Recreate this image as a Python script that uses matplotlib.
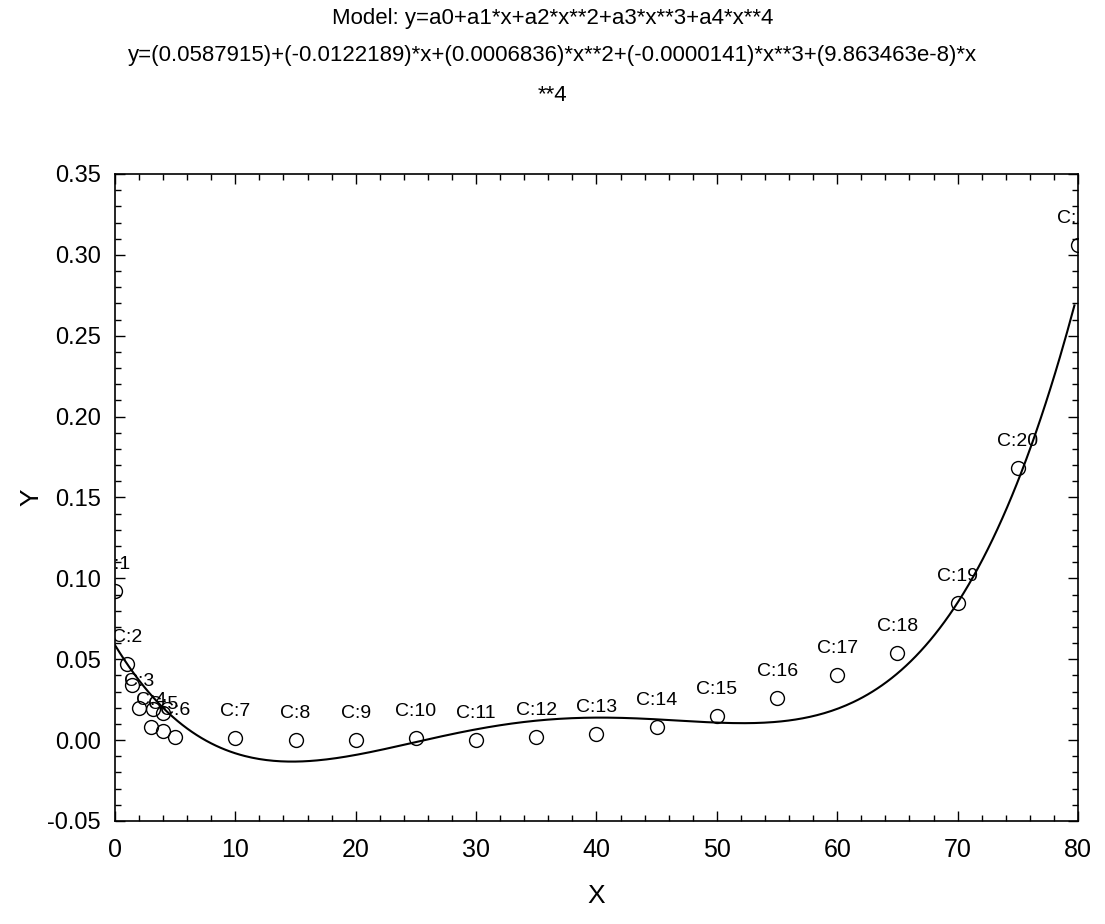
import numpy as np
import matplotlib.pyplot as plt
from matplotlib.ticker import MultipleLocator

case_x = [0, 1, 2, 3, 4, 5, 10, 15, 20, 25, 30, 35, 40, 45, 50, 55, 60, 65, 70, 75, 80]
case_y = [0.092, 0.047, 0.020, 0.008, 0.0056, 0.002, 0.001, 0.000, 0.000, 0.001, 0.000,
          0.002, 0.004, 0.008, 0.015, 0.026, 0.040, 0.054, 0.085, 0.168, 0.306]
case_labels = ['C:%d' % i for i in range(1, 22)]

# extra circles in the crowded corner with no readable label
extra_x = [1.4, 3.2, 4.0]
extra_y = [0.034, 0.019, 0.017]

# fitted model coefficients a0..a4
coefs = [0.0587915, -0.0122189, 0.0006836, -0.0000141, 9.863463e-8]

fam = ['Liberation Sans', 'DejaVu Sans']

fig = plt.figure(figsize=(11.05, 9.24), dpi=100)
ax = fig.add_axes([0.104, 0.1115, 0.8716, 0.7002])

xs = np.linspace(0, 79.7, 400)
ys = sum(c * xs**i for i, c in enumerate(coefs))
ax.plot(xs, ys, color='black', lw=1.5)

ax.plot(case_x, case_y, 'o', ms=10, mfc='none', mec='black', mew=1.0)
ax.plot(extra_x, extra_y, 'o', ms=10, mfc='none', mec='black', mew=1.0)
for x, y, lab in zip(case_x, case_y, case_labels):
    ax.annotate(lab, (x, y), xytext=(0, 13), textcoords='offset points',
                ha='center', va='bottom', fontsize=14, family=fam,
                annotation_clip=False, clip_on=True)

ax.set_xlim(0, 80)
ax.set_ylim(-0.05, 0.35)
ax.xaxis.set_major_locator(MultipleLocator(10))
ax.xaxis.set_minor_locator(MultipleLocator(2))
ax.yaxis.set_major_locator(MultipleLocator(0.05))
ax.yaxis.set_minor_locator(MultipleLocator(0.01))
ax.yaxis.set_major_formatter(plt.FormatStrFormatter('%.2f'))
ax.tick_params(which='both', direction='in', top=True, right=True, width=1)
ax.tick_params(which='major', length=7)
ax.tick_params(which='minor', length=4)
ax.tick_params(axis='y', pad=10)
ax.tick_params(axis='x', pad=12)
for t in ax.get_xticklabels():
    t.set_family(fam)
    t.set_fontsize(18)
for t in ax.get_yticklabels():
    t.set_family(fam)
    t.set_fontsize(17)
for s in ax.spines.values():
    s.set_linewidth(1.2)

ax.set_xlabel('X', fontsize=19, family=fam, labelpad=16)
ax.set_ylabel('Y', fontsize=19, family=fam, labelpad=3)

fig.text(0.5, 0.98, 'Model: y=a0+a1*x+a2*x**2+a3*x**3+a4*x**4',
         ha='center', va='center', fontsize=16, family=fam)
fig.text(0.5, 0.94, 'y=(0.0587915)+(-0.0122189)*x+(0.0006836)*x**2+(-0.0000141)*x**3+(9.863463e-8)*x',
         ha='center', va='center', fontsize=16, family=fam)
fig.text(0.5, 0.897, '**4', ha='center', va='center', fontsize=16, family=fam)

plt.savefig('out.png', dpi=100)
